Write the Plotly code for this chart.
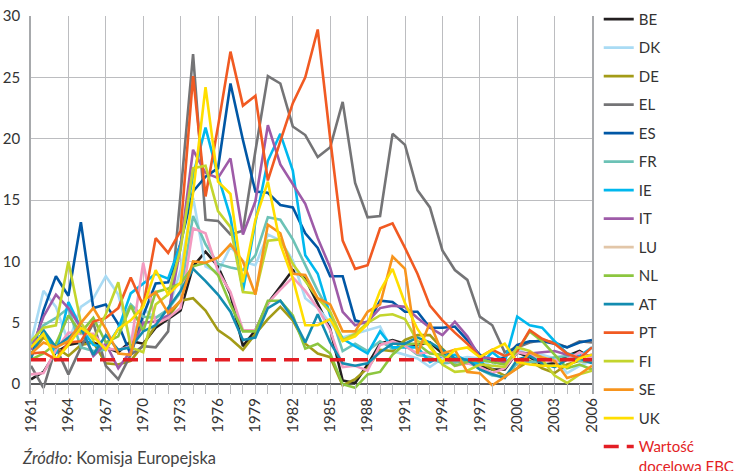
import plotly.graph_objects as go

years = list(range(1961, 2007))

BE = [0.4, 1.0, 2.6, 3.2, 3.4, 3.4, 3.0, 2.6, 3.5, 3.3,
      4.6, 5.3, 6.0, 9.6, 10.8, 9.6, 7.3, 3.1, 4.4, 6.6,
      8.0, 9.3, 8.6, 6.6, 4.5, 0.3, 0.1, 1.6, 3.3, 3.6,
      3.3, 3.2, 3.4, 2.5, 1.8, 1.9, 1.5, 1.2, 1.2, 2.6,
      2.2, 1.6, 1.7, 2.3, 2.7, 2.1]
DK = [3.4, 7.6, 6.3, 3.4, 6.3, 7.0, 8.8, 7.3, 3.5, 6.1,
      5.4, 6.0, 9.3, 15.2, 9.6, 9.1, 11.2, 10.0, 9.7, 12.2,
      11.7, 10.1, 7.0, 6.2, 5.0, 3.8, 4.1, 4.4, 4.7, 2.7,
      2.4, 2.1, 1.4, 2.1, 2.0, 2.2, 2.1, 1.4, 2.6, 2.9,
      2.3, 2.4, 2.1, 0.9, 1.5, 1.9]
DE = [2.5, 3.8, 3.0, 2.3, 3.2, 3.4, 1.7, 1.6, 1.9, 3.2,
      4.8, 5.5, 6.8, 7.0, 6.0, 4.4, 3.7, 2.8, 4.1, 5.3,
      6.3, 5.2, 3.3, 2.5, 2.2, -0.1, 0.4, 1.3, 2.8, 2.7,
      3.6, 4.0, 4.0, 2.9, 1.9, 1.7, 1.8, 1.2, 0.7, 1.3,
      1.9, 1.3, 0.9, 1.6, 1.9, 1.8]
EL = [1.5, -0.3, 3.0, 0.8, 3.0, 5.0, 1.5, 0.4, 2.4, 3.1,
      3.0, 4.3, 15.5, 26.9, 13.4, 13.3, 12.2, 12.5, 19.0, 25.1,
      24.5, 21.0, 20.3, 18.5, 19.3, 23.0, 16.4, 13.6, 13.7, 20.4,
      19.5, 15.8, 14.4, 10.9, 9.3, 8.5, 5.5, 4.8, 2.6, 3.0,
      3.4, 3.6, 3.4, 3.0, 3.5, 3.4]
ES = [2.0, 6.0, 8.8, 7.2, 13.2, 6.2, 6.5, 4.9, 2.4, 5.6,
      8.2, 8.3, 11.5, 15.7, 16.9, 17.6, 24.5, 19.9, 15.7, 15.6,
      14.6, 14.4, 12.3, 11.1, 8.8, 8.8, 5.2, 4.9, 6.8, 6.7,
      5.9, 5.9, 4.6, 4.6, 4.7, 3.6, 2.4, 1.8, 2.2, 3.2,
      3.5, 3.5, 3.3, 3.0, 3.4, 3.6]
FR = [3.3, 4.8, 5.4, 6.2, 3.0, 2.7, 2.8, 4.5, 6.5, 5.5,
      5.4, 6.1, 7.5, 13.7, 11.4, 9.8, 9.5, 9.3, 10.5, 13.6,
      13.4, 11.8, 9.7, 7.6, 5.8, 2.7, 3.3, 2.7, 3.5, 2.9,
      3.2, 2.4, 2.2, 1.7, 1.8, 2.0, 1.2, 0.7, 0.6, 1.7,
      1.8, 1.9, 2.2, 2.3, 1.9, 1.9]
IE = [3.0, 4.2, 2.5, 6.7, 4.6, 3.2, 3.0, 4.5, 7.4, 8.2,
      9.0, 8.6, 11.4, 17.0, 20.9, 17.0, 13.6, 7.6, 13.2, 18.2,
      20.4, 17.4, 10.5, 9.0, 5.6, 3.7, 3.1, 2.5, 4.3, 3.0,
      3.0, 3.0, 1.8, 2.3, 2.4, 1.9, 1.6, 2.6, 1.8, 5.5,
      4.8, 4.6, 3.5, 2.5, 2.3, 3.0]
IT = [2.8, 5.5, 7.3, 6.2, 4.6, 2.3, 3.3, 1.3, 2.7, 5.0,
      5.1, 5.6, 11.2, 19.1, 17.2, 16.8, 18.4, 12.2, 14.9, 21.1,
      17.9, 16.3, 14.7, 11.9, 9.5, 5.9, 4.8, 5.1, 6.2, 6.4,
      6.3, 5.4, 4.6, 4.0, 5.1, 3.9, 2.2, 2.1, 1.7, 2.6,
      2.5, 2.6, 2.7, 2.4, 2.2, 2.4]
LU = [0.8, 0.9, 2.8, 4.2, 4.1, 4.1, 2.9, 2.8, 3.1, 9.9,
      4.9, 5.4, 6.2, 12.7, 12.3, 9.2, 7.5, 4.4, 4.4, 6.6,
      7.7, 8.7, 7.6, 6.2, 4.4, 1.4, 1.5, 1.1, 3.2, 3.5,
      3.1, 2.5, 2.6, 2.3, 1.5, 1.7, 1.4, 0.9, 1.3, 2.6,
      2.4, 2.0, 1.9, 2.0, 2.6, 2.1]
NL = [2.0, 2.5, 3.3, 5.6, 4.2, 5.4, 3.4, 3.9, 6.4, 4.3,
      7.5, 7.8, 8.2, 9.6, 9.9, 8.9, 6.5, 4.3, 4.3, 6.8,
      6.8, 5.6, 2.9, 3.3, 2.5, 0.0, -0.3, 0.8, 1.0, 2.4,
      3.3, 3.3, 2.5, 2.4, 1.5, 1.8, 2.0, 1.8, 1.6, 2.7,
      4.3, 3.5, 2.4, 1.3, 1.6, 1.2]
AT = [2.2, 4.4, 3.0, 3.8, 4.6, 2.4, 4.0, 2.8, 3.0, 4.3,
      4.8, 6.2, 7.6, 9.4, 8.4, 7.3, 5.9, 3.6, 3.8, 6.2,
      6.8, 5.4, 3.4, 5.7, 3.4, 1.7, 1.5, 1.7, 2.6, 3.3,
      3.3, 3.8, 3.4, 2.8, 2.1, 2.0, 1.2, 0.8, 0.5, 2.0,
      2.3, 1.7, 1.4, 2.0, 2.1, 1.7]
PT = [2.5, 2.6, 2.0, 3.4, 3.5, 5.1, 5.4, 6.2, 8.7, 6.4,
      11.9, 10.7, 12.5, 25.1, 15.3, 21.0, 27.1, 22.7, 23.5, 16.6,
      19.8, 22.9, 25.0, 28.9, 20.0, 11.7, 9.4, 9.7, 12.7, 13.1,
      11.1, 9.0, 6.4, 5.2, 4.2, 3.3, 2.2, 2.8, 2.3, 2.7,
      4.4, 3.7, 3.3, 2.5, 2.1, 3.0]
FI = [3.5, 4.6, 4.8, 10.0, 5.0, 3.6, 5.7, 8.3, 3.0, 2.6,
      6.5, 7.3, 11.0, 17.6, 17.8, 14.1, 12.8, 7.5, 7.4, 11.7,
      11.8, 9.8, 8.4, 7.0, 5.9, 3.6, 4.1, 5.0, 5.6, 5.7,
      5.3, 3.5, 3.2, 1.6, 1.0, 1.1, 1.6, 1.5, 1.4, 3.0,
      2.7, 2.0, 0.7, 0.1, 0.8, 1.1]
SE = [2.5, 3.4, 3.0, 3.5, 5.0, 6.2, 4.5, 2.5, 2.4, 6.8,
      7.5, 5.8, 6.8, 10.0, 9.9, 10.3, 11.4, 10.0, 7.3, 13.0,
      12.3, 9.0, 8.9, 7.0, 6.5, 4.3, 4.3, 5.9, 6.5, 10.4,
      9.4, 2.5, 5.0, 2.5, 2.8, 1.0, 0.9, -0.1, 0.6, 1.3,
      2.6, 2.2, 1.9, 0.5, 0.8, 1.5]
UK = [3.0, 4.1, 2.0, 3.2, 4.6, 3.9, 2.8, 4.5, 5.2, 6.3,
      9.3, 7.3, 8.3, 15.6, 24.2, 16.5, 15.5, 8.3, 13.4, 16.5,
      11.4, 8.6, 4.8, 4.8, 5.3, 3.5, 3.9, 4.9, 7.6, 9.4,
      6.6, 4.5, 3.0, 1.8, 2.8, 3.0, 2.2, 2.8, 3.3, 1.8,
      1.6, 1.5, 1.5, 1.4, 2.1, 2.4]

target = 2.0  # Wartość docelowa EBC

series = [
    ("BE", BE, "#231F20"), ("DK", DK, "#A9DBF4"), ("DE", DE, "#A39B17"),
    ("EL", EL, "#747476"), ("ES", ES, "#0057A5"), ("FR", FR, "#6CC2B6"),
    ("IE", IE, "#00B8EE"), ("IT", IT, "#9E5BA8"), ("LU", LU, "#F39AC0"),
    ("NL", NL, "#8CC63F"), ("AT", AT, "#138CB0"), ("PT", PT, "#F15A22"),
    ("FI", FI, "#C3D52D"), ("SE", SE, "#F7941D"), ("UK", UK, "#FFDE00"),
]
LU_LEGEND = "#E2C6A8"
RED = "#E31E24"
GRID = "#BCBDC0"
FONT = "Lato"

fig = go.Figure()
for name, vals, col in series:
    fig.add_trace(go.Scatter(x=years, y=vals, mode="lines", name=name,
                             legendgroup=name, showlegend=(name != "LU"),
                             line=dict(color=col, width=2.6)))
    if name == "LU":
        # legend entry drawn in the colour used in the source legend
        fig.add_trace(go.Scatter(x=[None], y=[None], mode="lines", name=name,
                                 legendgroup=name, line=dict(color=LU_LEGEND, width=2.6)))

fig.add_trace(go.Scatter(
    x=[years[0], years[-1]], y=[target, target], mode="lines",
    name=f"<span style='color:{RED}'>Wartość</span><br><span style='color:{RED}'>docelowa EBC</span>",
    legendgroup="target", line=dict(color=RED, width=3.5, dash="15px,8px")))

fig.add_annotation(text="<i>Źródło:</i> Komisja Europejska", xref="paper", yref="paper",
                   x=-0.019, y=-0.17, xanchor="left", yanchor="middle", showarrow=False,
                   font=dict(family=FONT, size=16.5, color="#444"))

fig.update_layout(
    width=743, height=471,
    margin=dict(l=31, r=151, t=16, b=77, autoexpand=False),
    plot_bgcolor="white", paper_bgcolor="white",
    font=dict(family=FONT, size=15, color="#333"),
    legend=dict(x=1.012, y=0.994, xanchor="left", yanchor="top", valign="top",
                yref="container",
                tracegroupgap=6, traceorder="grouped", maxheight=480,
                font=dict(family=FONT, size=15, color="#333")),
    xaxis=dict(range=[1961, 2006], tickmode="linear", tick0=1961, dtick=3,
               tickangle=-90, showgrid=True, gridcolor=GRID, gridwidth=1.3,
               ticks="inside", ticklen=10, tickcolor=GRID,
               minor=dict(dtick=1, ticks="inside", ticklen=10, tickcolor=GRID, showgrid=False),
               zeroline=False, showline=False, automargin=False),
    yaxis=dict(range=[-0.8, 30], tickmode="linear", tick0=0, dtick=5,
               showgrid=True, gridcolor=GRID, gridwidth=1.3,
               zeroline=True, zerolinecolor="#58595B", zerolinewidth=1.5,
               showline=True, linecolor="#A7A9AC", linewidth=1.5, mirror=True,
               ticks="", ticklabelstandoff=6, automargin=False),
)

# page body margin would shift the 743x471 figure out of the window
fig.write_html("out.html", config={"displayModeBar": False},
               post_script="document.body.style.margin='0';")
